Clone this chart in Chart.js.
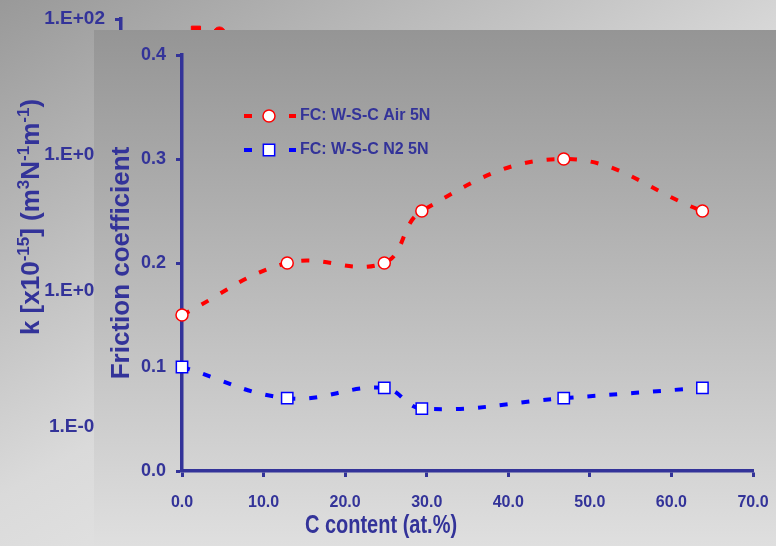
<!DOCTYPE html>
<html>
<head>
<meta charset="utf-8">
<title>Friction coefficient vs C content</title>
<script src="https://cdn.jsdelivr.net/npm/chart.js@4.4.1/dist/chart.umd.min.js"></script>
<style>
  body { margin: 0; }
  #stage {
    position: relative; width: 776px; height: 546px; overflow: hidden;
    background: linear-gradient(150deg, #999999 0%, #dadada 50%, #f4f4f4 100%);
  }
  #backChart { position: absolute; left: 0; top: 0; }
  #front {
    position: absolute; left: 94px; top: 30px; width: 682px; height: 516px;
    background: linear-gradient(180deg, #959595 0%, #dfdfdf 100%);
  }
</style>
</head>
<body>
<div id="stage">
  <canvas id="backChart" width="776" height="546"></canvas>
  <div id="front"><canvas id="fcChart" width="682" height="516"></canvas></div>
</div>
<script>
// C content of the W-S-C coatings (at.%)
const cContent = [0, 12.9, 24.8, 29.4, 46.8, 63.8];
// friction coefficient, 5 N load
const fcAir = [0.15, 0.20, 0.20, 0.25, 0.30, 0.25];
const fcN2 = [0.10, 0.07, 0.08, 0.06, 0.07, 0.08];

const xTicks = [0, 10, 20, 30, 40, 50, 60, 70];
const yTicks = [0, 0.1, 0.2, 0.3, 0.4];

// wear rate panel underneath (log axis), mostly covered
const kTicks = [0.1, 1, 10, 100];
const kContent = [8.3, 10.9];
const kValues = [82, 79];
const kStyles = ['rect', 'circle'];

const NAVY = '#333399';
const FONT = "'Liberation Sans', Arial, sans-serif";

const toPoints = (xs, ys) => xs.map((x, i) => ({ x, y: ys[i] }));
const fixedTicks = list => scale => { scale.ticks = list.map(v => ({ value: v })); };

function formatExp(v) {
  const e = Math.round(Math.log10(v));
  return '1.E' + (e < 0 ? '-' : '+') + String(Math.abs(e)).padStart(2, '0');
}

// rotated axis title with superscripts
const kTitle = {
  id: 'kTitle',
  afterDraw(chart) {
    const ctx = chart.ctx;
    const parts = [
      ['k [x10', false], ['-15', true], ['] (m', false], ['3', true],
      ['N', false], ['-1', true], ['m', false], ['-1', true], [')', false]
    ];
    const main = `bold 26px ${FONT}`;
    const sup = `bold 17px ${FONT}`;
    ctx.save();
    let total = 0;
    parts.forEach(([t, s]) => { ctx.font = s ? sup : main; total += ctx.measureText(t).width; });
    ctx.translate(39, 217);
    ctx.rotate(-Math.PI / 2);
    ctx.fillStyle = NAVY;
    ctx.textBaseline = 'alphabetic';
    let x = -total / 2;
    parts.forEach(([t, s]) => {
      ctx.font = s ? sup : main;
      ctx.fillText(t, x, s ? -10 : 0);
      x += ctx.measureText(t).width;
    });
    ctx.restore();
  }
};

new Chart(document.getElementById('backChart'), {
  type: 'scatter',
  data: {
    datasets: [{
      data: toPoints(kContent, kValues),
      pointStyle: kStyles,
      pointRadius: [6.5, 6],
      backgroundColor: '#ff0000',
      borderColor: '#ff0000',
      borderWidth: 1,
      clip: false
    }]
  },
  options: {
    responsive: false,
    animation: false,
    layout: { padding: { top: 19, right: 23, bottom: 119, left: 0 } },
    plugins: { legend: { display: false }, tooltip: { enabled: false } },
    scales: {
      x: { type: 'linear', min: 0, max: 70, display: false },
      y: {
        type: 'logarithmic', min: 0.1, max: 100,
        afterBuildTicks: fixedTicks(kTicks),
        afterFit: s => { s.width = 121; s.paddingTop = 0; s.paddingBottom = 0; },
        ticks: {
          color: NAVY, padding: 10,
          font: { family: FONT, size: 19, weight: 'bold' },
          callback: v => formatExp(v)
        },
        grid: { drawOnChartArea: false, tickLength: 6, tickWidth: 3, tickColor: NAVY },
        border: { color: NAVY, width: 3.5 }
      }
    }
  },
  plugins: [kTitle]
});

// legend: dash, marker, dash, label
const fcLegend = {
  id: 'fcLegend',
  afterDatasetsDraw(chart) {
    const ctx = chart.ctx;
    chart.data.datasets.forEach((ds, i) => {
      const y = 86 + i * 34;
      ctx.save();
      ctx.strokeStyle = ds.borderColor;
      ctx.lineWidth = 4;
      ctx.beginPath();
      ctx.moveTo(150, y); ctx.lineTo(158, y);
      ctx.moveTo(195, y); ctx.lineTo(202, y);
      ctx.stroke();
      ctx.fillStyle = ds.pointBackgroundColor;
      ctx.strokeStyle = ds.pointBorderColor;
      ctx.lineWidth = ds.pointBorderWidth;
      Chart.helpers.drawPoint(ctx, {
        pointStyle: ds.pointStyle, rotation: 0,
        radius: ds.pointRadius, borderWidth: ds.pointBorderWidth
      }, 175, y);
      ctx.font = `bold 16px ${FONT}`;
      ctx.fillStyle = NAVY;
      ctx.textBaseline = 'middle';
      ctx.fillText(ds.label, 206, y);
      ctx.restore();
    });
  }
};

// x title, set in a condensed face
const xTitle = {
  id: 'xTitle',
  afterDraw(chart) {
    const ctx = chart.ctx;
    ctx.save();
    ctx.translate(287, 496);
    ctx.scale(0.8, 1);
    ctx.font = `bold 25px ${FONT}`;
    ctx.fillStyle = NAVY;
    ctx.textAlign = 'center';
    ctx.textBaseline = 'middle';
    ctx.fillText('C content (at.%)', 0, 0);
    ctx.restore();
  }
};

new Chart(document.getElementById('fcChart'), {
  type: 'line',
  data: {
    datasets: [
      {
        label: 'FC: W-S-C Air 5N',
        data: toPoints(cContent, fcAir),
        borderColor: '#ff0000',
        borderWidth: 4,
        borderDash: [8, 14],
        tension: 0.4,
        pointStyle: 'circle',
        pointRadius: 6,
        pointBackgroundColor: '#ffffff',
        pointBorderColor: '#ff0000',
        pointBorderWidth: 1.5,
        clip: false
      },
      {
        label: 'FC: W-S-C N2 5N',
        data: toPoints(cContent, fcN2),
        borderColor: '#0000ff',
        borderWidth: 4,
        borderDash: [8, 14],
        tension: 0.4,
        pointStyle: 'rect',
        pointRadius: 8,
        pointBackgroundColor: '#ffffff',
        pointBorderColor: '#0000ff',
        pointBorderWidth: 1.5,
        clip: false
      }
    ]
  },
  options: {
    responsive: false,
    animation: false,
    layout: { padding: { top: 25, right: 23, bottom: 0, left: 0 } },
    plugins: { legend: { display: false }, tooltip: { enabled: false } },
    scales: {
      x: {
        type: 'linear', min: 0, max: 70,
        afterBuildTicks: fixedTicks(xTicks),
        afterFit: s => { s.height = 75; s.paddingLeft = 0; s.paddingRight = 0; },
        ticks: {
          color: NAVY, padding: 16, maxRotation: 0, autoSkip: false,
          font: { family: FONT, size: 16, weight: 'bold' },
          callback: v => v.toFixed(1)
        },
        grid: { drawOnChartArea: false, tickLength: 6, tickWidth: 3, tickColor: NAVY },
        border: { color: NAVY, width: 3.5 }
      },
      y: {
        type: 'linear', min: 0, max: 0.4,
        afterBuildTicks: fixedTicks(yTicks),
        afterFit: s => { s.width = 88; s.paddingTop = 0; s.paddingBottom = 0; },
        title: {
          display: true, text: 'Friction coefficient', color: NAVY,
          font: { family: FONT, size: 26, weight: 'bold' },
          padding: { top: 12.4, bottom: 0 }
        },
        ticks: {
          color: NAVY, padding: 10,
          font: { family: FONT, size: 18, weight: 'bold' },
          callback: v => v.toFixed(1)
        },
        grid: { drawOnChartArea: false, tickLength: 6, tickWidth: 3, tickColor: NAVY },
        border: { color: NAVY, width: 3.5 }
      }
    }
  },
  plugins: [fcLegend, xTitle]
});
</script>
</body>
</html>
